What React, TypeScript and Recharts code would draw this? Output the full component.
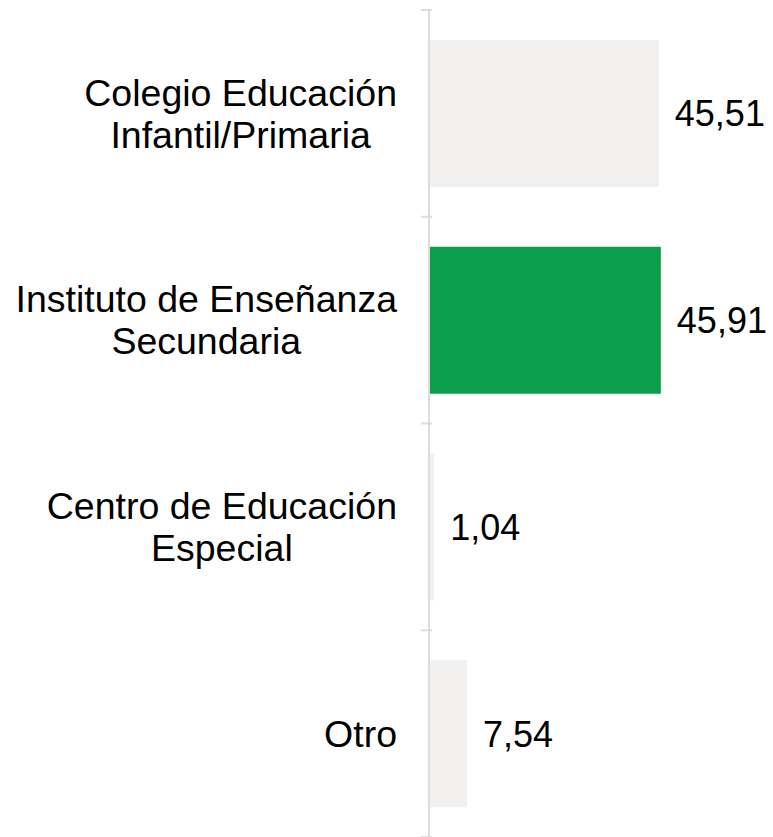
import { BarChart, Bar, XAxis, YAxis, Cell, LabelList } from 'recharts';

const categories = [
  'Colegio Educación\nInfantil/Primaria',
  'Instituto de Enseñanza\nSecundaria',
  'Centro de Educación\nEspecial',
  'Otro',
];
const values = [45.51, 45.91, 1.04, 7.54];
const colors = ['#f1f0ef', '#0b9e4b', '#f1f0ef', '#f1f0ef'];

const data = categories.map((name, i) => ({ name, value: values[i] }));

const FONT = "'Liberation Sans', Arial, sans-serif";
const CAT_SIZE = 37.5;
const VAL_SIZE = 36;

let ctx: CanvasRenderingContext2D | null = null;
const textWidth = (s: string) => {
  if (!ctx) ctx = document.createElement('canvas').getContext('2d');
  if (!ctx) return s.length * CAT_SIZE * 0.5;
  ctx.font = `${CAT_SIZE}px ${FONT}`;
  return ctx.measureText(s).width;
};

const CategoryTick = (props: any) => {
  const { x, y, payload, index } = props;
  const lines = String(payload.value).split('\n');
  const maxW = Math.max(...lines.map(textWidth));
  const right = x - 24;
  const cx = right - maxW / 2;
  const lineH = 42;
  const startY = y - ((lines.length - 1) * lineH) / 2;
  const half = payload.offset || 0;
  const axisX = x + 11;
  return (
    <g>
      <line x1={axisX - 11} x2={axisX} y1={y - half} y2={y - half} stroke="#dcdcdc" strokeWidth={2} />
      {index === categories.length - 1 && (
        <line x1={axisX - 11} x2={axisX} y1={y + half} y2={y + half} stroke="#dcdcdc" strokeWidth={2} />
      )}
      <text textAnchor="middle" fontFamily={FONT} fontSize={CAT_SIZE} fill="#000">
        {lines.map((l, i) => (
          <tspan key={i} x={cx} y={startY + i * lineH} dy="0.355em">
            {l}
          </tspan>
        ))}
      </text>
    </g>
  );
};

export default function App() {
  return (
    <div style={{ position: 'absolute', left: 0, top: 0, background: '#fff' }}>
      <BarChart
        width={773}
        height={837}
        data={data}
        layout="vertical"
        margin={{ top: 10, right: 41, bottom: 0, left: 0 }}
        barCategoryGap={30}
      >
        <XAxis type="number" domain={[0, 60]} hide />
        <YAxis
          type="category"
          dataKey="name"
          width={429}
          axisLine={{ stroke: '#dcdcdc', strokeWidth: 2 }}
          tickLine={false}
          tick={<CategoryTick />}
          interval={0}
        />
        <Bar dataKey="value" isAnimationActive={false}>
          {data.map((d, i) => (
            <Cell key={d.name} fill={colors[i]} />
          ))}
          <LabelList
            dataKey="value"
            position="right"
            offset={16}
            formatter={(v: any) => Number(v).toFixed(2).replace('.', ',')}
            style={{ fontFamily: FONT, fontSize: VAL_SIZE, fill: '#000' }}
          />
        </Bar>
      </BarChart>
    </div>
  );
}
